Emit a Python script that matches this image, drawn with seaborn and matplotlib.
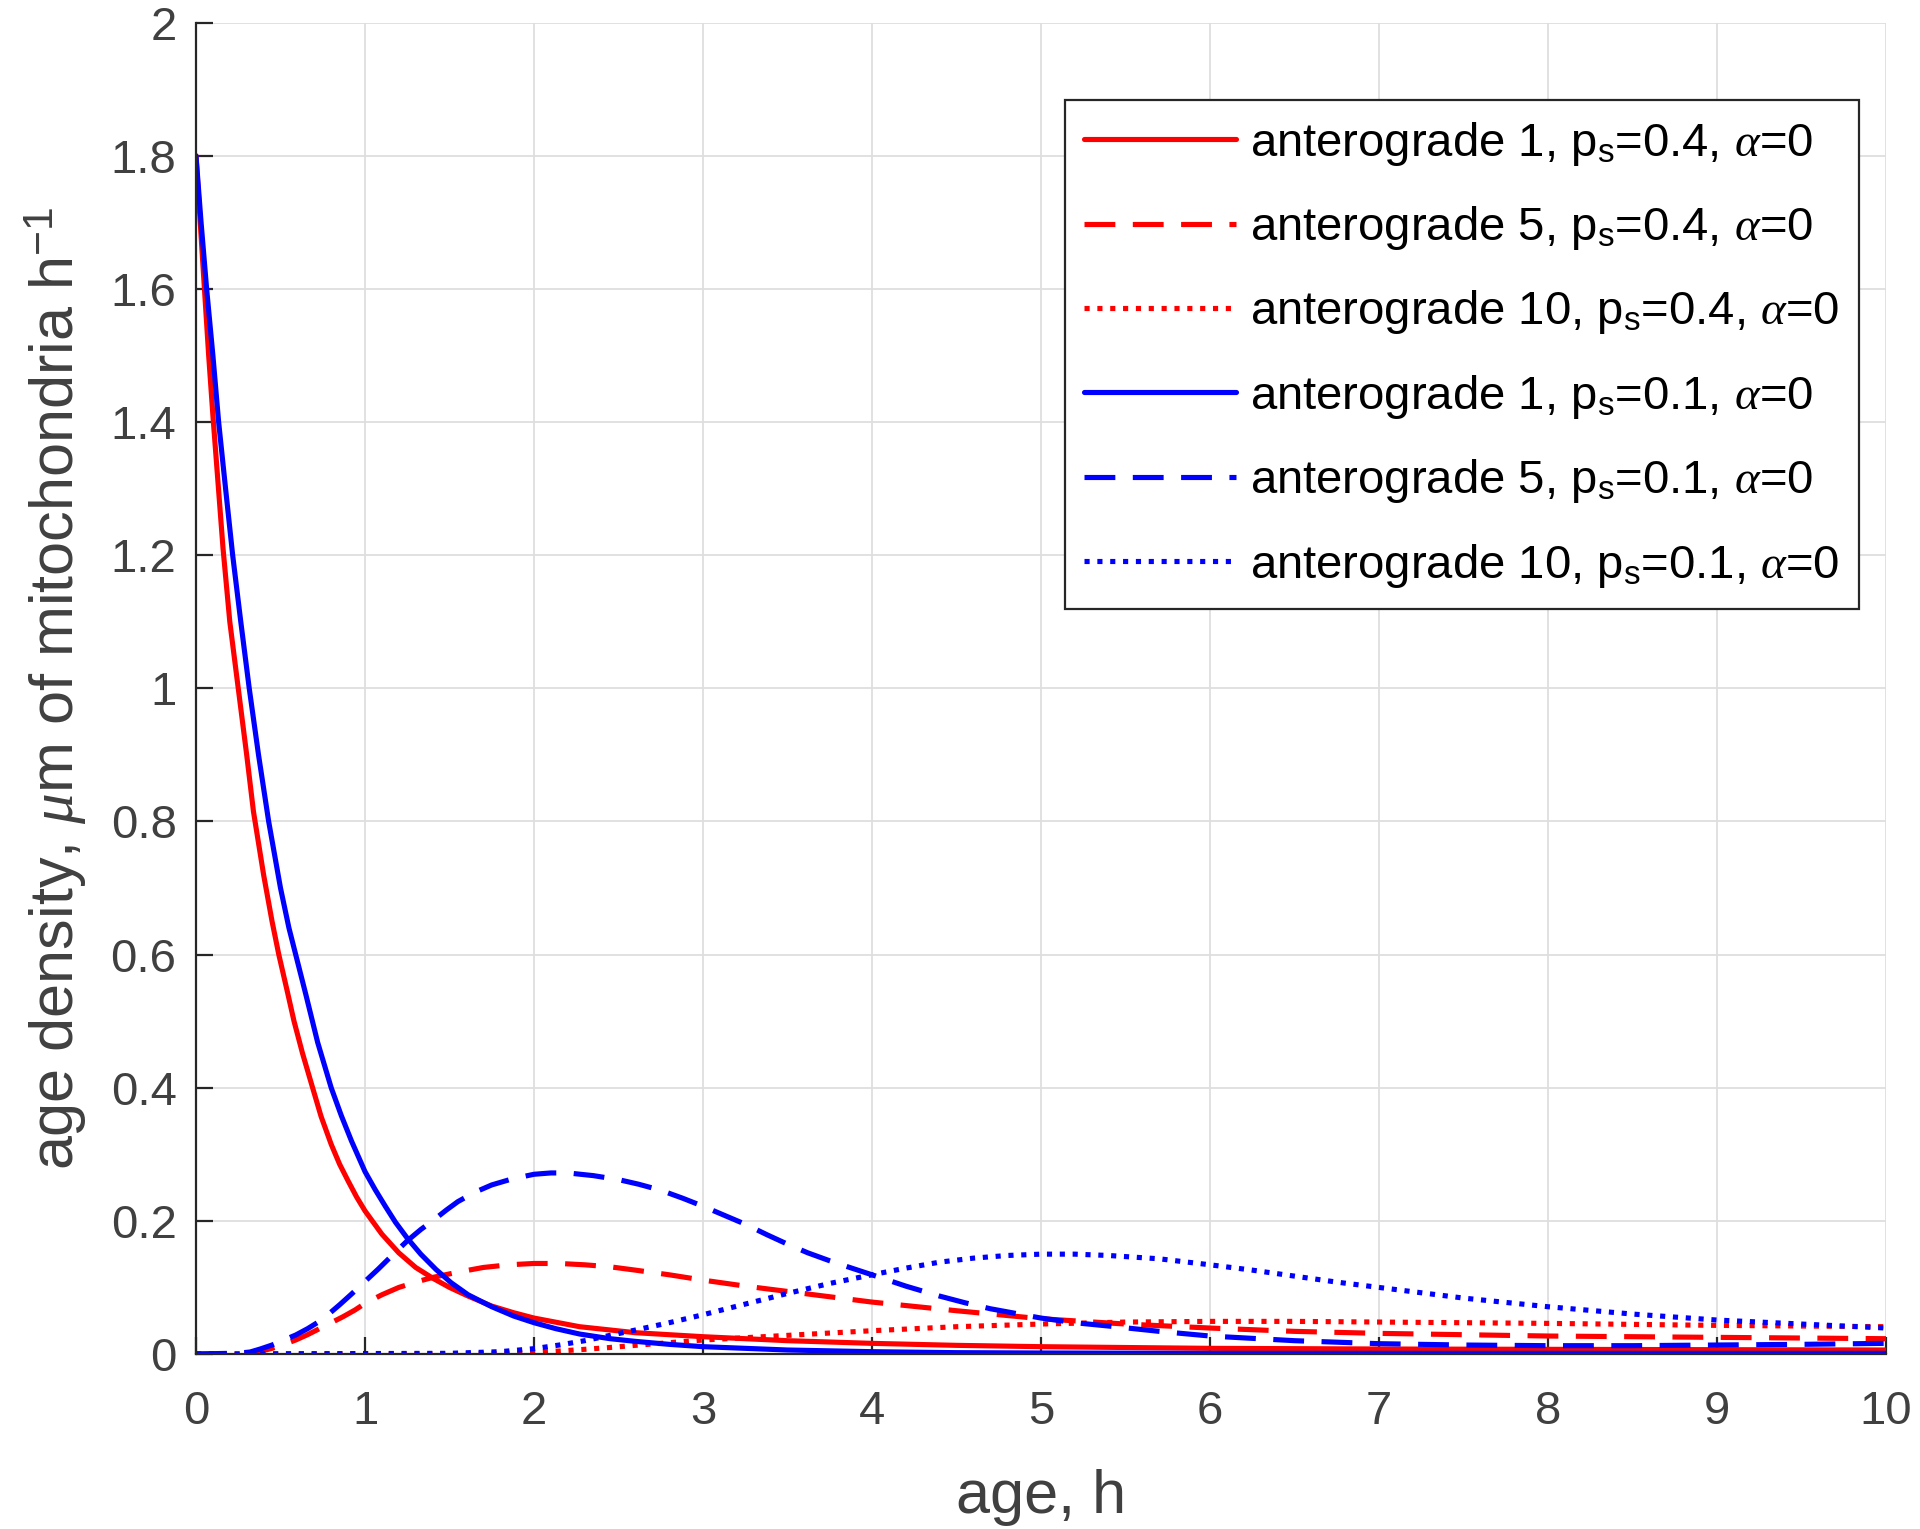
import numpy as np
import pandas as pd
import matplotlib
matplotlib.use("Agg")
import matplotlib.pyplot as plt
import seaborn as sns

# ---------------- data ----------------
x_ticks = [0, 1, 2, 3, 4, 5, 6, 7, 8, 9, 10]
y_ticks = [0, 0.2, 0.4, 0.6, 0.8, 1.0, 1.2, 1.4, 1.6, 1.8, 2.0]
y_tick_labels = ["0", "0.2", "0.4", "0.6", "0.8", "1", "1.2", "1.4", "1.6", "1.8", "2"]

labels = [
    r"anterograde 1, p$_{\mathrm{s}}$=0.4, $\alpha$=0",
    r"anterograde 5, p$_{\mathrm{s}}$=0.4, $\alpha$=0",
    r"anterograde 10, p$_{\mathrm{s}}$=0.4, $\alpha$=0",
    r"anterograde 1, p$_{\mathrm{s}}$=0.1, $\alpha$=0",
    r"anterograde 5, p$_{\mathrm{s}}$=0.1, $\alpha$=0",
    r"anterograde 10, p$_{\mathrm{s}}$=0.1, $\alpha$=0",
]

# anterograde 1, ps=0.4
t_r1 = [0, 0.025, 0.05, 0.075, 0.1, 0.13, 0.16, 0.2, 0.25, 0.3, 0.34, 0.4, 0.45, 0.49,
        0.54, 0.58, 0.63, 0.69, 0.74, 0.8, 0.85, 0.9, 0.95, 1.0, 1.1, 1.2, 1.3, 1.4, 1.5,
        1.61, 1.75, 1.88, 2.0, 2.27, 2.6, 3.0, 3.5, 4.0, 4.5, 5.0, 6, 7, 8, 9, 10]
y_r1 = [1.8, 1.7, 1.6, 1.5, 1.41, 1.31, 1.21, 1.1, 1.0, 0.9, 0.815, 0.72, 0.65, 0.6,
        0.545, 0.5, 0.452, 0.4, 0.357, 0.315, 0.285, 0.26, 0.236, 0.215, 0.18, 0.152,
        0.13, 0.114, 0.1, 0.087, 0.072, 0.062, 0.054, 0.041, 0.032, 0.026, 0.02, 0.016,
        0.013, 0.011, 0.0085, 0.0075, 0.007, 0.0065, 0.006]

# anterograde 5, ps=0.4
t_r5 = [0, 0.2, 0.3, 0.38, 0.45, 0.52, 0.59, 0.66, 0.73, 0.8, 0.87, 0.94, 1.0, 1.1,
        1.2, 1.3, 1.4, 1.55, 1.7, 1.85, 2.0, 2.15, 2.3, 2.45, 2.6, 2.8, 3.0, 3.25, 3.5,
        3.75, 4.0, 4.5, 5.0, 5.5, 6.0, 6.5, 7.0, 7.5, 8.0, 9.0, 10]
y_r5 = [0, 0, 0.001, 0.004, 0.0085, 0.0145, 0.021, 0.029, 0.038, 0.047, 0.056, 0.066,
        0.076, 0.089, 0.1, 0.108, 0.115, 0.123, 0.13, 0.134, 0.136, 0.136, 0.134, 0.131,
        0.126, 0.119, 0.111, 0.102, 0.094, 0.086, 0.078, 0.065, 0.053, 0.045, 0.039,
        0.034, 0.031, 0.029, 0.027, 0.025, 0.023]

# anterograde 10, ps=0.4
t_r10 = [0, 1.5, 1.8, 2.0, 2.15, 2.3, 2.45, 2.6, 2.8, 3.0, 3.25, 3.5, 3.75, 4.0, 4.5,
         5.0, 5.5, 6.0, 6.5, 7.0, 8.0, 9.0, 10]
y_r10 = [0, 0, 0.001, 0.0025, 0.0045, 0.007, 0.0098, 0.013, 0.017, 0.021, 0.0245,
         0.028, 0.0315, 0.035, 0.041, 0.045, 0.048, 0.049, 0.049, 0.048, 0.046, 0.043,
         0.041]

# anterograde 1, ps=0.1
t_b1 = [0, 0.03, 0.063, 0.1, 0.134, 0.175, 0.217, 0.265, 0.315, 0.37, 0.43, 0.5, 0.55,
        0.59, 0.65, 0.72, 0.8, 0.86, 0.92, 1.0, 1.06, 1.12, 1.18, 1.25, 1.33, 1.42, 1.51,
        1.61, 1.75, 1.88, 2.0, 2.13, 2.27, 2.45, 2.6, 2.8, 3.0, 3.5, 4.0, 4.5, 5, 6, 7, 8,
        9, 10]
y_b1 = [1.8, 1.7, 1.6, 1.5, 1.4, 1.3, 1.2, 1.1, 1.0, 0.9, 0.8, 0.7, 0.64, 0.6, 0.54,
        0.468, 0.4, 0.358, 0.32, 0.274, 0.247, 0.222, 0.198, 0.174, 0.15, 0.127, 0.107,
        0.089, 0.071, 0.057, 0.047, 0.038, 0.03, 0.023, 0.019, 0.0145, 0.011, 0.006,
        0.0035, 0.002, 0.0015, 0.001, 0.001, 0.001, 0.001, 0.001]

# anterograde 5, ps=0.1
t_b5 = [0, 0.2, 0.26, 0.32, 0.38, 0.45, 0.52, 0.59, 0.66, 0.73, 0.79, 0.85, 0.92, 1.0,
        1.08, 1.16, 1.25, 1.33, 1.4, 1.48, 1.55, 1.65, 1.75, 1.87, 2.0, 2.1, 2.2, 2.35,
        2.5, 2.62, 2.75, 2.88, 3.0, 3.12, 3.25, 3.38, 3.5, 3.62, 3.75, 3.88, 4.0, 4.2,
        4.4, 4.55, 4.7, 4.85, 5.0, 5.2, 5.4, 5.7, 6.0, 6.5, 7.0, 7.5, 8.0, 8.5, 9.0, 9.5,
        10]
y_b5 = [0, 0.001, 0.0015, 0.003, 0.0075, 0.0135, 0.021, 0.0285, 0.038, 0.049, 0.061,
        0.074, 0.09, 0.109, 0.128, 0.148, 0.17, 0.187, 0.2, 0.216, 0.229, 0.243, 0.254,
        0.263, 0.27, 0.272, 0.272, 0.268, 0.262, 0.255, 0.246, 0.234, 0.222, 0.209,
        0.195, 0.179, 0.165, 0.152, 0.14, 0.129, 0.119, 0.102, 0.087, 0.077, 0.068,
        0.061, 0.054, 0.047, 0.042, 0.034, 0.027, 0.02, 0.0155, 0.0135, 0.0125, 0.0125,
        0.0135, 0.0145, 0.016]

# anterograde 10, ps=0.1
t_b10 = [0, 1.5, 1.8, 2.0, 2.15, 2.3, 2.45, 2.6, 2.8, 3.0, 3.25, 3.5, 3.75, 4.0, 4.2,
         4.4, 4.6, 4.8, 5.0, 5.2, 5.4, 5.7, 6.0, 6.25, 6.5, 6.75, 7.0, 7.5, 8.0, 8.5, 9.0,
         9.5, 10]
y_b10 = [0, 0.001, 0.0035, 0.008, 0.0135, 0.02, 0.028, 0.036, 0.047, 0.059, 0.075,
         0.091, 0.106, 0.119, 0.129, 0.138, 0.144, 0.148, 0.15, 0.15, 0.148, 0.143,
         0.134, 0.126, 0.117, 0.108, 0.1, 0.084, 0.071, 0.06, 0.051, 0.045, 0.039]

series_t = [t_r1, t_r5, t_r10, t_b1, t_b5, t_b10]
series_y = [y_r1, y_r5, y_r10, y_b1, y_b5, y_b10]
colors = ["#ff0000", "#ff0000", "#ff0000", "#0000ff", "#0000ff", "#0000ff"]
styles = ["-", (0, (6, 3.4)), (0, (1, 1.5)), "-", (0, (6, 3.4)), (0, (1, 1.5))]

# ---------------- style ----------------
sns.set_theme(style="white")
plt.rcParams["font.family"] = ["Liberation Sans", "DejaVu Sans"]
plt.rcParams["mathtext.fontset"] = "custom"
plt.rcParams["mathtext.rm"] = "Liberation Sans"
plt.rcParams["mathtext.it"] = "Liberation Serif:italic"
plt.rcParams["mathtext.bf"] = "Liberation Sans:bold"

gray = "#404040"

fig = plt.figure(figsize=(19.2, 15.29), dpi=100)
ax = fig.add_axes([196 / 1920, 1 - 1354 / 1529, (1886 - 196) / 1920, (1354 - 22.7) / 1529])

for t, y, c, ls, lab in zip(series_t, series_y, colors, styles, labels):
    df = pd.DataFrame({"t": t, "y": y})
    sns.lineplot(data=df, x="t", y="y", ax=ax, color=c, linestyle=ls, linewidth=3.7,
                 label=lab, estimator=None, sort=False)

ax.set_xlim(0, 10)
ax.set_ylim(0, 2)
ax.set_xticks(x_ticks)
ax.set_xticklabels([str(v) for v in x_ticks])
ax.set_yticks(y_ticks)
ax.set_yticklabels(y_tick_labels)

ax.grid(True, color="#dedede", linewidth=1.3)
ax.set_axisbelow(True)
for s in ["top", "right"]:
    ax.spines[s].set_visible(False)
for s in ["left", "bottom"]:
    ax.spines[s].set_color("#262626")
    ax.spines[s].set_linewidth(1.6)

ax.tick_params(axis="both", direction="in", length=12.5, width=1.6, color="#262626",
               labelsize=34, labelcolor=gray, left=True, bottom=True)
ax.tick_params(axis="x", pad=26)
ax.tick_params(axis="y", pad=14)

ax.set_xlabel("age, h", fontsize=44, color=gray, labelpad=25)
ax.set_ylabel(r"age density, $\mu$m of mitochondria h$^{\mathrm{-1}}$", fontsize=44,
              color=gray, labelpad=16)

leg = ax.legend(loc="upper right", bbox_to_anchor=(0.984, 0.942), borderaxespad=0,
                fontsize=34, frameon=True, fancybox=False, framealpha=1,
                handlelength=3.2, handletextpad=0.3, labelspacing=0.77,
                borderpad=0.42)
leg.get_frame().set_edgecolor("#262626")
leg.get_frame().set_linewidth(1.6)
for txt in leg.get_texts():
    txt.set_color("black")

fig.savefig("out.png", dpi=100)
